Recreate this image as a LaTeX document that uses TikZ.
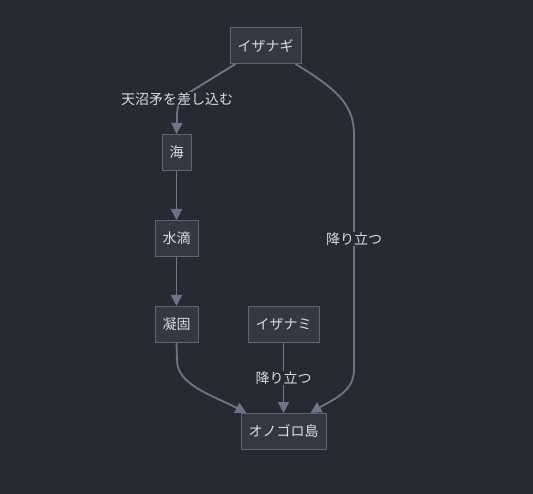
\documentclass[tikz,border=0pt]{standalone}
\usepackage{fontspec}
\setmainfont{Noto Sans CJK JP}
\usetikzlibrary{arrows.meta,calc}
\definecolor{bgc}{HTML}{272A33}
\definecolor{nodefill}{HTML}{343843}
\definecolor{nodeline}{HTML}{5E6475}
\definecolor{txt}{HTML}{D8DBE1}
\definecolor{edgec}{HTML}{6F7588}
\tikzset{
  box/.style={draw=nodeline, fill=nodefill, line width=1pt, inner sep=0pt, minimum height=36pt, text=txt, font=\fontsize{14}{16}\selectfont},
  conn/.style={draw=edgec, line width=1.8pt, -{Triangle[length=11pt,width=11pt]}},
  lbl/.style={fill=bgc, text=txt, inner sep=1pt, font=\fontsize{14}{16}\selectfont},
}
\begin{document}
\begin{tikzpicture}[x=1pt,y=-1pt]
\fill[bgc] (0,0) rectangle (533,494);
\useasboundingbox (0,0) rectangle (533,494);
\node[box, minimum width=71pt] (nagi) at (265.5,45.5) {イザナギ};
\node[box, minimum width=29pt] (umi) at (176.5,152.5) {海};
\node[box, minimum width=43pt] (drop) at (176.5,238.5) {水滴};
\node[box, minimum width=43pt] (solid) at (176.5,324.5) {凝固};
\node[box, minimum width=71pt] (nami) at (283.5,324.5) {イザナミ};
\node[box, minimum width=85pt] (ono) at (283.5,431.5) {オノゴロ島};
% edges
\draw[conn] ($(nagi.south west)+(6,0)$) -- (190,92) .. controls (178,100) and (177,106) .. (177,118) -- (umi.north);
\draw[conn] ($(nagi.south east)+(-6,0)$) .. controls (338,90) and (354,105) .. (354,135) -- (354,370) .. controls (354,392) and (332,400) .. ($(ono.north east)+(-16,0)$);
\draw[conn] (umi.south) -- (drop.north);
\draw[conn] (drop.south) -- (solid.north);
\draw[conn] (solid.south) -- (177,360) .. controls (177,385) and (212,395) .. ($(ono.north west)+(6,0)$);
\draw[conn] (nami.south) -- (ono.north);
% labels
\node[lbl] (l1) at (177,99) {天沼矛を差し込む};
\node[lbl] (l2) at (354,239) {降り立つ};
\node[lbl] (l3) at (283.5,378) {降り立つ};
\end{tikzpicture}
\end{document}
